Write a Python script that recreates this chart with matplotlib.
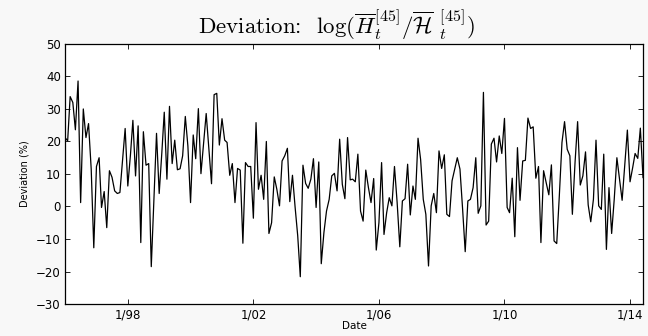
"""Deviation time series (monthly), MATLAB-like styling."""

import matplotlib

matplotlib.use("Agg")
import matplotlib.dates as mdates
import matplotlib.pyplot as plt
import pandas as pd

# monthly values, Jan 1996 onwards (%)
deviation = [
    21.2, 20.2, 33.8, 32.0, 23.6, 38.6, 1.2, 30.0, 21.2, 25.5,
    11.5, -12.7, 12.3, 15.0, -0.3, 4.6, -6.5, 11.0, 9.0, 4.8,
    4.0, 4.3, 14.5, 24.0, 6.3, 16.0, 26.5, 9.4, 24.8, -11.1,
    23.0, 12.7, 13.2, -18.5, 2.2, 22.5, 4.0, 16.6, 29.0, 8.4,
    30.8, 13.2, 20.4, 11.3, 11.6, 15.6, 27.7, 18.6, 1.2, 22.0,
    14.7, 30.1, 10.1, 19.7, 28.6, 17.6, 7.0, 34.4, 34.8, 18.9,
    27.0, 20.4, 19.7, 9.6, 13.2, 1.2, 11.7, 11.2, -11.3, 13.5,
    12.3, 12.3, -3.6, 25.8, 5.3, 9.6, 2.2, 20.0, -8.3, -5.0,
    9.1, 5.3, 0.2, 14.0, 15.6, 17.9, 1.5, 9.6, 0.0, -9.0,
    -21.6, 12.7, 7.1, 5.6, 8.4, 14.7, -0.3, 13.7, -17.6, -8.0,
    -1.4, 2.2, 9.4, 10.2, 4.8, 20.7, 6.8, 2.4, 21.2, 8.2,
    8.4, 7.6, 16.1, -1.4, -4.5, 11.2, 5.8, 1.2, 8.6, -13.4,
    -5.0, 13.5, -8.6, -1.9, 2.7, 0.2, 12.3, 1.2, -12.4, 1.7,
    2.4, 13.0, -2.6, 6.3, 2.2, 21.0, 14.5, 2.2, -2.4, -18.3,
    0.2, 4.0, -1.9, 17.1, 11.7, 15.9, -2.4, -3.1, 7.9, 11.5,
    15.0, 11.5, -0.9, -13.9, 1.7, 2.2, 5.8, 15.0, -2.1, 0.2,
    35.1, -5.7, -4.5, 19.2, 21.0, 13.7, 21.7, 16.3, 27.1, -0.3,
    -1.9, 8.7, -9.3, 18.1, 1.9, 14.0, 14.2, 27.2, 24.0, 24.5,
    8.7, 12.3, -11.1, 11.0, 7.4, 3.6, 12.8, -10.6, -11.4, 3.2,
    19.7, 26.1, 17.6, 15.6, -2.4, 13.5, 26.1, 6.6, 9.4, 16.8,
    0.5, -4.7, 2.2, 20.4, 0.2, -0.9, 16.1, -13.2, 5.8, -8.3,
    2.2, 15.0, 8.4, 1.9, 13.0, 23.5, 7.6, 12.0, 16.3, 14.8,
    24.1, 8.9,
]
dates = pd.date_range("1996-01-01", periods=len(deviation), freq="MS")
tick_years = [1998, 2002, 2006, 2010, 2014]
y_ticks = [-30, -20, -10, 0, 10, 20, 30, 40, 50]

plt.rcParams["font.family"] = ["DejaVu Sans"]
plt.rcParams["mathtext.fontset"] = "cm"

fig = plt.figure(figsize=(6.48, 3.36), dpi=100, facecolor="#f8f8f8")
ax = fig.add_axes([0.1003, 0.0952, 0.892, 0.774])
ax.plot(dates, deviation, color="black", lw=0.9)

ax.set_xlim(dates[0], dates[-1])
ax.set_ylim(-30, 50)
ax.set_yticks(y_ticks)
ax.set_xticks([pd.Timestamp(f"{y}-01-01") for y in tick_years])
ax.xaxis.set_major_formatter(mdates.DateFormatter("%-m/%y"))
ax.tick_params(direction="in", top=True, right=True, length=3.5, width=0.6,
               labelsize=8.5, pad=3)
for sp in ax.spines.values():
    sp.set_linewidth(0.9)

ax.set_xlabel("Date", fontsize=7.5, labelpad=0)
ax.set_ylabel("Deviation (%)", fontsize=7, labelpad=5)
ax.set_title(
    r"Deviation:  $\log(\overline{H}_t^{[45]}/\overline{\mathcal{H}}\ {}_t^{[45]})$",
    fontsize=16.5, pad=7, x=0.47, family=["cmr10", "DejaVu Serif"],
)

fig.savefig("out.png", dpi=100, facecolor=fig.get_facecolor())
